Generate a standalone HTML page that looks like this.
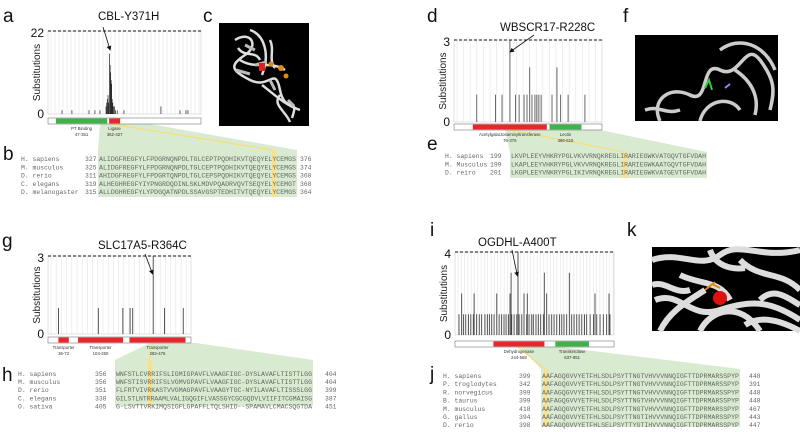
<!DOCTYPE html>
<html><head><meta charset="utf-8"><style>
html,body{margin:0;padding:0;background:#fff;}
svg{display:block;font-family:"Liberation Sans",sans-serif;}
.seq{font-family:"Liberation Mono",monospace;font-size:6.4px;fill:#666;}
.lt{font-size:19px;fill:#111;}
.ttl{font-size:11.5px;fill:#111;}
.tk{font-size:12px;fill:#111;}
.yt{font-size:10px;fill:#222;}
.dl{font-size:4.3px;fill:#333;}
</style></head><body>
<svg id="fig" width="800" height="432" viewBox="0 0 800 432">
<defs><marker id="ah" markerWidth="6" markerHeight="6" refX="5" refY="3" orient="auto"><path d="M0,0L6,3L0,6z" fill="#111"/></marker></defs>
<text class="lt" x="3" y="22">a</text>
<text class="lt" x="3" y="160">b</text>
<text class="lt" x="203" y="22">c</text>
<text class="lt" x="427" y="22">d</text>
<text class="lt" x="427" y="150">e</text>
<text class="lt" x="623" y="22">f</text>
<text class="lt" x="2" y="247">g</text>
<text class="lt" x="2" y="381">h</text>
<text class="lt" x="430" y="236">i</text>
<text class="lt" x="430" y="380">j</text>
<text class="lt" x="627" y="236">k</text>

<g>
<rect x="219" y="23" width="90" height="103" fill="#000"/>
<path d="M235,40 C250,30 260,45 245,55 S230,70 250,80 S275,65 280,90 S300,95 292,118 M250,30 C265,35 270,55 262,75 M240,60 C255,70 270,60 285,70 M262,85 C275,95 285,105 300,110 M238,48 C245,58 255,50 260,60 M270,40 C275,50 268,60 275,68 M280,95 C272,105 285,110 290,122" stroke="#ddd" stroke-width="2.5" fill="none"/>
<path d="M245,45 l10,5 M255,65 l12,-3 M270,80 l5,10 M288,100 l6,6 M236,70 l14,4" stroke="#bbb" stroke-width="3" fill="none"/>
<rect x="259" y="63" width="6" height="8" fill="#e02020"/>
<circle cx="271" cy="64" r="2.5" fill="#e08a10"/><circle cx="281" cy="68" r="3" fill="#e08a10"/><circle cx="286" cy="76" r="2.5" fill="#e08a10"/>
</g>
<g>
<rect x="635" y="35" width="143" height="86" fill="#000"/>
<path d="M660,121 C650,100 670,85 690,95 S700,60 720,70 S745,40 760,60 S775,90 770,110 M700,121 C705,100 730,95 740,110 M720,50 C740,35 765,45 775,70 M645,110 C660,105 665,115 680,110 M735,70 C750,80 760,95 755,115" stroke="#ccc" stroke-width="3.5" fill="none"/>
<path d="M705,88 l4,-8 l3,10" stroke="#3c3" stroke-width="2" fill="none"/>
<path d="M725,88 l5,-4" stroke="#88f" stroke-width="2"/>
</g>
<g>
<rect x="652" y="247" width="148" height="84" fill="#000"/>
<path d="M652,260 C680,250 700,270 720,255 S760,260 800,250 M655,300 C680,290 690,320 720,310 S770,300 800,320 M700,331 C710,310 740,300 760,331 M660,331 C670,310 690,300 705,290 M740,260 C760,280 780,270 800,290 M680,275 C700,285 720,280 730,300 M652,285 C665,280 675,295 690,290 M760,300 C775,285 790,300 800,305 M745,325 C760,315 780,320 800,331 M710,250 C715,265 730,270 745,268" stroke="#ddd" stroke-width="6" fill="none"/>
<path d="M705,290 l10,-8 M712,284 l8,4" stroke="#e08a10" stroke-width="2"/>
<circle cx="720" cy="298" r="7" fill="#e01010"/>
</g>
<g id="charts"></g>
</svg>
<script>
// CBL (panel a)
const cblResidues=[83,142,243,278,308,344,348,352,356,360,365,368,371,374,377,380,384,388,393,400,410,450,669,782,817,829];
const cblValues=[1,1,1,1,1,2,3,4,5,3,16,13,11,9,8,4,3,2,2,1,1,1,2,1,1,1];
// WBSCR17 (panel d)
const wbsResidues=[92,168,194,226,249,263,283,295,306,315,327,335,343,352,396,416,431,461,529];
const wbsValues=[1,1,1,3,1,1,1,1,2,1,1,1,1,1,1,2,1,1,1];
// SLC17A5 (panel g)
const slcResidues=[36,174,259,284,293,364,403,468];
const slcValues=[1,1,1,1,1,3,1,1];
// OGDHL (panel i)
const ogdResidues=[25,42,53,68,85,100,116,121,137,154,169,190,205,218,233,248,265,280,296,311,324,339,349,356,360,375,392,400,407,424,438,455,459,470,487,497,514,529,544,561,567,582,597,614,629,646,663,678,692,709,726,741,756,773,788,805,822,836,858,879,889,900,921,942,963,978,984];
const ogdValues=[1,2,1,1,1,1,1,2,1,1,1,1,1,1,1,1,2,1,1,1,1,1,2,3,1,1,1,4,1,1,2,1,2,1,1,1,1,1,1,1,3,2,1,1,1,1,1,1,1,1,3,1,1,1,1,1,1,1,1,1,2,1,1,1,1,2,1];
const yMaxA=22, yMaxD=3, yMaxG=3, yMaxI=4;

const NS="http://www.w3.org/2000/svg";
const root=document.getElementById('charts');
function mk(tag,attrs,parent){const e=document.createElementNS(NS,tag);for(const k in attrs)e.setAttribute(k,attrs[k]);(parent||root).appendChild(e);return e;}

function panel(p){
  const g=mk('g',{});
  
  
  const x=r=>p.x0+(p.x1-p.x0)*r/p.len;
  const y=v=>p.yb-(p.yb-p.yt)*v/p.ymax;
  const fan=mk('path',{d:`M${p.fan[0]},${p.dy1} L${p.fan[1]},${p.dy1} L${p.box[1]},${p.box[2]} L${p.box[1]},${p.box[3]} L${p.box[0]},${p.box[3]} L${p.box[0]},${p.box[2]} Z`,fill:'#d8ead0'},g);
  
  
  mk('line',{x1:x(p.mut),y1:p.dy1,x2:p.hl,y2:p.box[2],stroke:'#f6df7a','stroke-width':1.2},g);
  mk('rect',{x:p.hl-1,y:p.box[2],width:4.2,height:p.box[3]-p.box[2],fill:'#fbe08a'},g);
  mk('rect',{x:p.x0,y:p.yt,width:p.x1-p.x0,height:p.yb-p.yt,fill:'#fff',stroke:'#ccc','stroke-width':0.6},g);
  for(let gx=p.x0+3;gx<p.x1;gx+=p.gstep) mk('line',{x1:gx,y1:p.yt,x2:gx,y2:p.yb,stroke:'#e4e4e4','stroke-width':0.6},g);
  const dash=mk('line',{x1:p.x0,y1:p.yt,x2:p.x1,y2:p.yt,stroke:'#111','stroke-width':1.1,'stroke-dasharray':'3,2'},g);
  
  
  p.res.forEach((r,i)=>{
    const v=p.val[i];
    const b=mk('rect',{x:x(r)-0.4,y:y(v),width:p.bw,height:p.yb-y(v),fill:p.col},g);
    
    
  });
  const t1=mk('text',{x:p.x0-4,y:p.yt+6,'text-anchor':'end',class:'tk'},g);t1.textContent=p.ymax;
  
  const t0=mk('text',{x:p.x0-4,y:p.yb+4,'text-anchor':'end',class:'tk'},g);t0.textContent='0';
  
  const cy=(p.yt+p.yb)/2;
  const yt=mk('text',{x:p.x0-8,y:cy,'text-anchor':'middle',class:'yt',transform:`rotate(-90 ${p.x0-8} ${cy})`},g);yt.textContent='Substitutions';
  
  mk('rect',{x:p.x0,y:p.dy0,width:p.x1-p.x0,height:p.dy1-p.dy0,fill:'#fff',stroke:'#777','stroke-width':0.6},g);
  p.doms.forEach(d=>{
    const r=mk('rect',{x:x(d.s),y:p.dy0+0.5,width:x(d.e)-x(d.s),height:p.dy1-p.dy0-1,fill:d.c},g);
    
    const cx=(x(d.s)+x(d.e))/2;
    const l1=mk('text',{x:cx,y:p.dy1+6,'text-anchor':'middle',class:'dl'},g);l1.textContent=d.n;
    const l2=mk('text',{x:cx,y:p.dy1+12,'text-anchor':'middle',class:'dl'},g);l2.textContent=d.s+'-'+d.e;
  });
  const tt=mk('text',{x:p.tx,y:p.ty,class:'ttl'},g);tt.textContent=p.title;
  
  mk('line',{x1:p.ax,y1:p.ay,x2:x(p.mut)-0.5,y2:p.ahy,stroke:'#111','stroke-width':0.8,'marker-end':'url(#ah)'},g);
  p.rows.forEach((row,i)=>{
    const ry=p.ry0+i*p.rdy;
    const s=mk('text',{x:p.sx,y:ry,class:'seq'},g);s.textContent=row[0];
    const n=mk('text',{x:p.nx,y:ry,class:'seq'},g);n.textContent=row[1];
    const q=mk('text',{x:p.box[0]+1,y:ry,class:'seq',textLength:p.box[1]-p.box[0]-2,lengthAdjust:'spacingAndGlyphs'},g);q.textContent=row[2];
    
    if(row[3]){const e=mk('text',{x:p.ex,y:ry,class:'seq'},g);e.textContent=row[3];}
  });
}

panel({name:'cbl',x0:48,x1:201,yt:31,yb:114,len:906,ymax:yMaxA,res:cblResidues,val:cblValues,bw:0.7,gstep:4,col:'#222',
 dy0:118,dy1:124,doms:[{s:47,e:351,c:'#3db34a',n:'PT Binding'},{s:362,e:427,c:'#e8262b',n:'Ligase'}],
 mut:371,title:'CBL-Y371H',tx:98,ty:20,ax:103,ay:27,ahy:50,
 fan:[100,150],box:[98,297,150,197],hl:273,
 rows:[['H. sapiens','327','ALIDGFREGFYLFPDGRNQNPDLTGLCEPTPQDHIKVTQEQYELYCEMGS','376'],['M. musculus','325','ALIDGFREGFYLFPDGRNQNPDLTGLCEPTPQDHIKVTQEQYELYCEMGS','374'],['D. rerio','311','AHIDGFREGFYLFPDGRTQNPDLTGLCEPSPQDHIKVTQEQYELYCEMGS','360'],['C. elegans','319','ALHEGHREGFYIYPNGRDQDINLSKLMDVPQADRVQVTSEQYELYCEMGT','368'],['D. melanogaster','315','ALLDGHREGFYLYPDGQATNPDLSSAVGSPTEDHITVTQEQYELYCEMGS','364']],
 sx:21,nx:85,ex:300,ry0:161,rdy:8.3});
panel({name:'wbscr17',x0:454,x1:602,yt:40,yb:122,len:598,ymax:yMaxD,res:wbsResidues,val:wbsValues,bw:0.8,gstep:6.6,col:'#444',
 dy0:124,dy1:130,doms:[{s:76,e:375,c:'#e8262b',n:'Acetylgalactosaminyltransferase'},{s:386,e:515,c:'#3db34a',n:'Lectin'}],
 mut:228,title:'WBSCR17-R228C',tx:500,ty:31,ax:534,ay:35,ahy:52,
 fan:[505,600],box:[510,707,152,178],hl:624,
 rows:[['H. sapiens','199','LKVPLEEYVHKRYPGLVKVVRNQKREGLIRARIEGWKVATGQVTGFVDAH'],['M. Musculus','199','LKAPLEEYVHKRYPGLVKVVRNQKREGLIRARIEGWKAATGQVTGFVDAH'],['D. reiro','201','LKGPLEEYVNKRYPGLIKIVRNQKREGLIRARIEGWKVATGEVTGFVDAH']],
 sx:445,nx:490,ex:0,ry0:158,rdy:8.3});
panel({name:'slc17a5',x0:48,x1:191,yt:256,yb:334,len:495,ymax:yMaxG,res:slcResidues,val:slcValues,bw:0.9,gstep:5.2,col:'#444',
 dy0:337,dy1:343,doms:[{s:36,e:72,c:'#e8262b',n:'Transporter'},{s:104,e:260,c:'#e8262b',n:'Transporter'},{s:282,e:476,c:'#e8262b',n:'Transporter'}],
 mut:364,title:'SLC17A5-R364C',tx:98,ty:249,ax:145,ay:254,ahy:274,
 fan:[150,196],box:[115,313,360,406],hl:149,
 rows:[['H. sapiens','356','WNFSTLCVRRIFSLIGMIGPAVFLVAAGFIGC-DYSLAVAFLTISTTLGG','404'],['M. musculus','356','WNFSTISVRRIFSLVGMVGPAVFLVAAGFIGC-DYSLAVAFLTISTTLGG','404'],['D. rerio','351','FLFRTVIVRKASTVVGMAGPAVFLVAAGYTGC-NYILAVAFLTISSSLGG','399'],['C. elegans','338','GILSTLNTRRAAMLVALIGQGIFLVASSGYCGCGQDVLVIIFITCGMAISG','387'],['O. sativa','405','G-LSVTTVRKIMQSIGFLGPAFFLTQLSHID--SPAMAVLCMACSQGTDA','451']],
 sx:18,nx:95,ex:325,ry0:376,rdy:8.1});
panel({name:'ogdhl',x0:455,x1:614,yt:252,yb:335,len:1010,ymax:yMaxI,res:ogdResidues,val:ogdValues,bw:0.9,gstep:3.3,col:'#444',
 dy0:341,dy1:347,doms:[{s:244,e:568,c:'#e8262b',n:'Dehydrogenase'},{s:637,e:851,c:'#3db34a',n:'Transketolase'}],
 mut:400,title:'OGDHL-A400T',tx:478,ty:246,ax:512,ay:250,ahy:276,
 fan:[520,560],box:[541,740,369,427],hl:545,
 rows:[['H. sapiens','399','AAFAGQGVVYETFHLSDLPSYTTNGTVHVVVNNQIGFTTDPRMARSSPYP','448'],['P. troglodytes','342','AAFAGQGVVYETFHLSDLPSYTTNGTVHVVVNNQIGFTTDPRMARSSPYP','391'],['R. norvegicus','399','AAFAGQGVVYETFHLSDLPSYTTNGTVHVVVNNQIGFTTDPRMARSSPYP','448'],['B. taurus','399','AAFAGQGVVYETFHLSDLPSYTTNGTVHVVVNNQIGFTTDPRMARSSPYP','448'],['M. musculus','418','AAFAGQGVVYETFHLSDLPSYTTNGTVHVVVNNQIGFTTDPRMARSSPYP','467'],['G. gallus','394','AAFAGQGVVYETFHLSDLPSYTTNGTIHVVVNNQIGFTTDPRMARSSPYP','443'],['D. rerio','398','AAFAGQGVVYETFHLSELPSYTTYGTIHVVVNNQIGFTTDPRMARSSPYP','447']],
 sx:443,nx:519,ex:749,ry0:378,rdy:8.2});
</script>
</body></html>
